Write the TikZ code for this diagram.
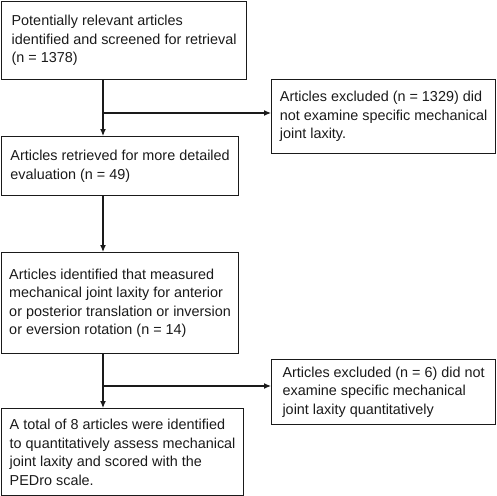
\documentclass[tikz,border=0pt]{standalone}
\usepackage{fontspec}
\setmainfont{Liberation Sans}
\usetikzlibrary{arrows.meta,positioning}
\definecolor{flowInk}{HTML}{1A1A1A}
\tikzset{
  stagebox/.style={rectangle,draw=flowInk,text=flowInk,line width=1.2pt,anchor=north west,
    align=left,inner sep=0pt,font=\fontsize{14.4}{18.5}\selectfont},
  arrow/.style={-{Latex[length=7pt,width=6pt]},line width=1.2pt,draw=flowInk}
}
\begin{document}
\begin{tikzpicture}[x=1pt,y=1pt]
  \useasboundingbox (-1,1) rectangle (495,-495);
  \node[stagebox,minimum width=245pt,minimum height=78pt] (screen) at (0,0)
    {Potentially relevant articles\\identified and screened for retrieval\\(n = 1378)};
  \node[stagebox,minimum width=224pt,minimum height=74pt] (excl1) at (270,-78)
    {Articles excluded (n = 1329) did\\not examine specific mechanical\\joint laxity.};
  \node[stagebox,minimum width=237pt,minimum height=59pt] (retrieved) at (0,-135)
    {Articles retrieved for more detailed\\evaluation (n = 49)};
  \node[stagebox,minimum width=237pt,minimum height=101pt] (measured) at (0,-251)
    {Articles identified that measured\\mechanical joint laxity for anterior\\or posterior translation or inversion\\or eversion rotation (n = 14)};
  \node[stagebox,minimum width=224pt,minimum height=65pt] (excl2) at (270,-358)
    {Articles excluded (n = 6) did not\\examine specific mechanical\\joint laxity quantitatively};
  \node[stagebox,minimum width=242pt,minimum height=87pt] (final) at (0,-407)
    {A total of 8 articles were identified\\to quantitatively assess mechanical\\joint laxity and scored with the\\PEDro scale.};
  \coordinate (spine) at (102,0);
  \coordinate (split1) at (102,-112);
  \coordinate (split2) at (102,-385);
  \draw[arrow] (screen.south -| spine) -- (retrieved.north -| spine);
  \draw[arrow] (split1) -- (split1 -| excl1.west);
  \draw[arrow] (retrieved.south -| spine) -- (measured.north -| spine);
  \draw[arrow] (measured.south -| spine) -- (final.north -| spine);
  \draw[arrow] (split2) -- (split2 -| excl2.west);
\end{tikzpicture}
\end{document}
